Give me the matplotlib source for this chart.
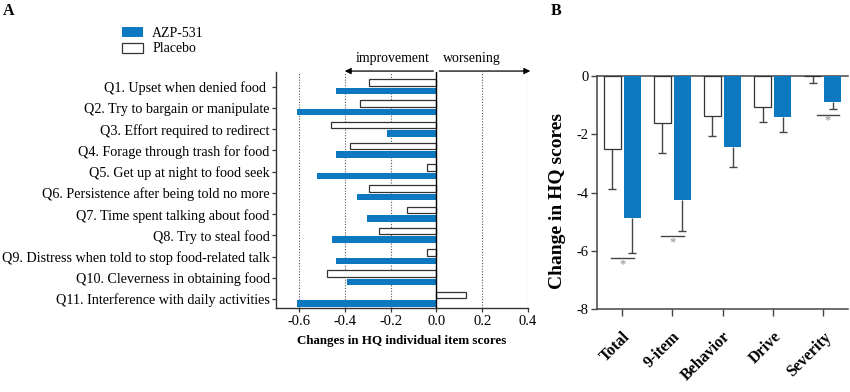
import matplotlib
matplotlib.use("Agg")
import matplotlib.pyplot as plt
from matplotlib.patches import Patch
import numpy as np

plt.rcParams['font.family'] = ['Liberation Serif', 'DejaVu Serif']
plt.rcParams['axes.unicode_minus'] = False

# ---- Panel A data ----
items = ["Q1. Upset when denied food ",
         "Q2. Try to bargain or manipulate",
         "Q3. Effort required to redirect",
         "Q4. Forage through trash for food",
         "Q5. Get up at night to food seek",
         "Q6. Persistence after being told no more",
         "Q7. Time spent talking about food",
         "Q8. Try to steal food",
         "Q9. Distress when told to stop food-related talk",
         "Q10. Cleverness in obtaining food",
         "Q11. Interference with daily activities"]
azp_items = [-0.436, -0.608, -0.216, -0.436, -0.522, -0.348, -0.304, -0.455, -0.436, -0.392, -0.608]
placebo_items = [-0.292, -0.333, -0.458, -0.376, -0.041, -0.292, -0.126, -0.249, -0.041, -0.477, 0.129]
xticks_a = [-0.6, -0.4, -0.2, 0.0, 0.2, 0.4]
xticklabels_a = ["-0.6", "-0.4", "-0.2", "0.0", "0.2", "0.4"]

# ---- Panel B data ----
categories = ["Total", "9-item", "Behavior", "Drive", "Severity"]
placebo_means = [-2.50, -1.62, -1.39, -1.08, -0.02]
placebo_err = [1.39, 1.04, 0.66, 0.49, 0.24]
azp_means = [-4.88, -4.25, -2.44, -1.43, -0.90]
azp_err = [1.19, 1.06, 0.68, 0.50, 0.24]
yticks_b = [0, -2, -4, -6, -8]

BLUE = '#0b78bf'
EDGE = '#333333'
ECOL = '#444444'

fig = plt.figure(figsize=(8.5, 3.92), dpi=100)

# ================= Panel A =================
axA = fig.add_axes([276/850, 1-308/392, 252/850, 236/392])
n = len(items)
y = np.arange(n)
axA.barh(y - 0.2, placebo_items, height=0.3, color='white', edgecolor=EDGE, linewidth=0.9, zorder=3)
axA.barh(y + 0.2, azp_items, height=0.3, color=BLUE, edgecolor='none', zorder=3)
axA.set_ylim(10.42, -0.69)
axA.set_xlim(-0.70, 0.40)
for xv in [-0.6, -0.4, -0.2, 0.2, 0.4]:
    axA.axvline(xv, color='#555555', linestyle=(0, (1, 1.5)), linewidth=0.8, zorder=1)
axA.axvline(0, color='black', linewidth=1.0, zorder=4)
axA.set_yticks(y)
axA.set_yticklabels(items, fontsize=10.2)
axA.set_xticks(xticks_a)
axA.set_xticklabels(xticklabels_a, fontsize=10.5)
axA.tick_params(axis='y', length=3, width=0.9, pad=1.5, color='#333333')
axA.tick_params(axis='x', length=3, width=0.9, pad=2, color='#333333')
for s in ['top', 'right']:
    axA.spines[s].set_visible(False)
for s in ['left', 'bottom']:
    axA.spines[s].set_linewidth(1.0)
    axA.spines[s].set_color('#333333')
axA.set_xlabel("Changes in HQ individual item scores", fontsize=9.4, fontweight='bold', labelpad=5)

tr = axA.get_xaxis_transform()
axA.annotate("", xy=(-0.40, 1.004), xytext=(-0.013, 1.004), xycoords=tr, textcoords=tr,
             arrowprops=dict(arrowstyle='-|>', color='black', lw=0.9, mutation_scale=9,
                             shrinkA=0, shrinkB=0), annotation_clip=False)
axA.annotate("", xy=(0.41, 1.004), xytext=(0.013, 1.004), xycoords=tr, textcoords=tr,
             arrowprops=dict(arrowstyle='-|>', color='black', lw=0.9, mutation_scale=9,
                             shrinkA=0, shrinkB=0), annotation_clip=False)
axA.text(-0.19, 1.059, "improvement", transform=tr, ha='center', va='center', fontsize=10)
axA.text(0.153, 1.059, "worsening", transform=tr, ha='center', va='center', fontsize=10)

fig.legend(handles=[Patch(facecolor=BLUE, edgecolor='none', label='AZP-531'),
                    Patch(facecolor='white', edgecolor=EDGE, linewidth=0.9, label='Placebo')],
           loc='upper left', bbox_to_anchor=(112/850, 1-17/392), frameon=False,
           fontsize=10, handlelength=1.5, handleheight=0.7, handletextpad=0.7,
           labelspacing=0.2, borderpad=0.2)

fig.text(3/850, 1-3/392, "A", fontsize=11.5, fontweight='bold', va='top', ha='left')

# ================= Panel B =================
axB = fig.add_axes([597/850, 1-309.3/392, 251/850, 233.6/392])
xb = np.arange(len(categories))
w = 0.34
xp = xb - 0.2
xa = xb + 0.2
axB.bar(xp, placebo_means, width=w, color='white', edgecolor=EDGE, linewidth=0.9, zorder=3)
axB.bar(xa, azp_means, width=w, color=BLUE, edgecolor='none', zorder=3)
cap = 0.08
for xs, m, e in [(xp, placebo_means, placebo_err), (xa, azp_means, azp_err)]:
    m = np.array(m); e = np.array(e)
    axB.vlines(xs, m, m - e, color=ECOL, linewidth=1.0, zorder=2)
    axB.hlines(m - e, xs - cap, xs + cap, color=ECOL, linewidth=1.0, zorder=2)
axB.set_ylim(-8, 0)
axB.set_xlim(-0.5, 4.5)
axB.set_yticks(yticks_b)
axB.set_yticklabels([str(v) for v in yticks_b], fontsize=10.5)
axB.set_xticks(xb)
axB.set_xticklabels(categories, fontsize=11.5, fontweight='bold', rotation=45,
                    ha='right', va='top', rotation_mode='anchor')
axB.tick_params(axis='y', length=4, width=1.0, pad=2, color=ECOL)
axB.tick_params(axis='x', length=5, width=1.0, pad=9, color=ECOL)
axB.spines['right'].set_visible(False)
for s in ['left', 'bottom', 'top']:
    axB.spines[s].set_linewidth(1.1)
    axB.spines[s].set_color(ECOL)
axB.set_ylabel("Change in HQ scores", fontsize=14, fontweight='bold')
axB.yaxis.set_label_coords(-0.1235, 0.464)

# significance markers
sig = [(-0.22, 0.23, -6.24, 0.0, -6.45),
       (0.78, 1.23, -5.50, 1.0, -5.72),
       (3.89, 4.33, -1.33, 4.1, -1.53)]
for x0, x1, yl, xs, ys in sig:
    axB.plot([x0, x1], [yl, yl], color=ECOL, lw=1.0, clip_on=False, zorder=4)
    axB.text(xs, ys, "*", ha='center', va='center', fontsize=9, color='#888888')

fig.text(551/850, 1-3/392, "B", fontsize=11.5, fontweight='bold', va='top', ha='left')

fig.savefig("out.png", dpi=100)
